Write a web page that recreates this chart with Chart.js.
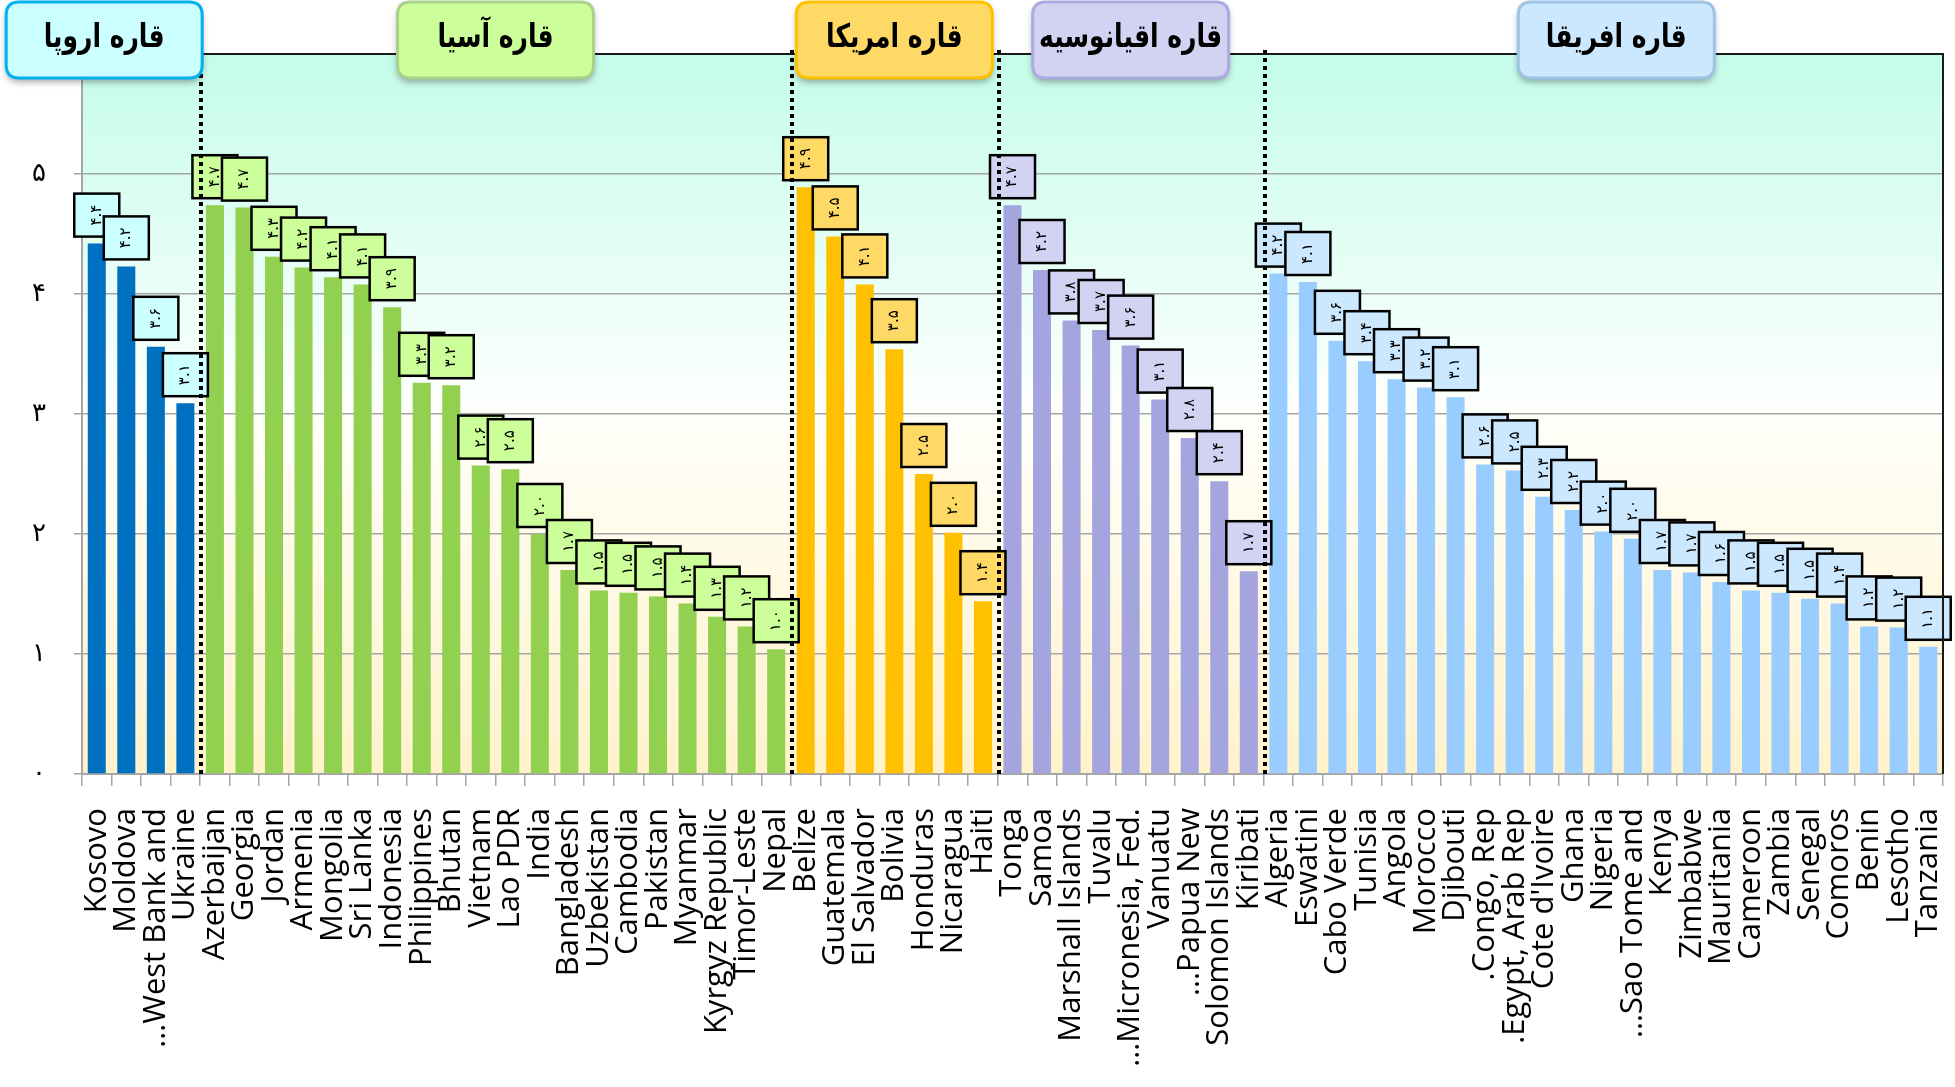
<!DOCTYPE html>
<html><head><meta charset="utf-8">
<script src="https://cdn.jsdelivr.net/npm/chart.js@4"></script>
<style>html,body{margin:0;padding:0;background:#fff;}canvas{display:block;}</style>
</head><body>
<canvas id="c" width="1955" height="1087"></canvas>
<script>
// ---- data ----
const europeLabels = ['Kosovo', 'Moldova', '…West Bank and', 'Ukraine'];
const europeValues = [4.42, 4.23, 3.56, 3.09];

const asiaLabels = ['Azerbaijan', 'Georgia', 'Jordan', 'Armenia', 'Mongolia', 'Sri Lanka', 'Indonesia',
  'Philippines', 'Bhutan', 'Vietnam', 'Lao PDR', 'India', 'Bangladesh', 'Uzbekistan', 'Cambodia',
  'Pakistan', 'Myanmar', 'Kyrgyz Republic', 'Timor-Leste', 'Nepal'];
const asiaValues = [4.74, 4.72, 4.31, 4.22, 4.14, 4.08, 3.89, 3.26, 3.24, 2.57, 2.54, 2.0, 1.7, 1.53,
  1.51, 1.48, 1.42, 1.31, 1.23, 1.04];

const americaLabels = ['Belize', 'Guatemala', 'El Salvador', 'Bolivia', 'Honduras', 'Nicaragua', 'Haiti'];
const americaValues = [4.89, 4.48, 4.08, 3.54, 2.5, 2.01, 1.44];

const oceaniaLabels = ['Tonga', 'Samoa', 'Marshall Islands', 'Tuvalu', '…Micronesia, Fed.', 'Vanuatu',
  '…Papua New', 'Solomon Islands', 'Kiribati'];
const oceaniaValues = [4.74, 4.2, 3.78, 3.7, 3.57, 3.12, 2.8, 2.44, 1.69];

const africaLabels = ['Algeria', 'Eswatini', 'Cabo Verde', 'Tunisia', 'Angola', 'Morocco', 'Djibouti',
  '.Congo, Rep', '.Egypt, Arab Rep', "Cote d'Ivoire", 'Ghana', 'Nigeria', '…Sao Tome and', 'Kenya',
  'Zimbabwe', 'Mauritania', 'Cameroon', 'Zambia', 'Senegal', 'Comoros', 'Benin', 'Lesotho', 'Tanzania'];
const africaValues = [4.17, 4.1, 3.61, 3.44, 3.29, 3.22, 3.14, 2.58, 2.53, 2.31, 2.2, 2.02, 1.96, 1.7,
  1.68, 1.6, 1.53, 1.51, 1.46, 1.42, 1.23, 1.22, 1.06];

const groupTitles = ['قاره اروپا', 'قاره آسیا', 'قاره امریکا', 'قاره اقیانوسیه', 'قاره افریقا'];
const yTickLabels = ['۰', '۱', '۲', '۳', '۴', '۵', ''];

// ---- styles ----
const groupBarColors = ['#0070C0', '#92D050', '#FFC000', '#A4A4DF', '#99CCFF'];
const groupBoxFills  = ['#CCFFFF', '#CCFF99', '#FFD966', '#D2D2F2', '#CCE8FF'];
const groupBorders   = ['#00B0F0', '#A9D18E', '#FFC000', '#ABABE2', '#9DC3E6'];

const faDigits = '۰۱۲۳۴۵۶۷۸۹';
const fa = s => String(s).replace(/\d/g, d => faDigits[d]);

const groups = [
  [europeLabels, europeValues], [asiaLabels, asiaValues], [americaLabels, americaValues],
  [oceaniaLabels, oceaniaValues], [africaLabels, africaValues]
];
const labels = [], values = [], barColors = [], boxFills = [], groupStart = [];
groups.forEach(([ls, vs], gi) => {
  groupStart.push(labels.length);
  ls.forEach((l, i) => {
    labels.push(l); values.push(vs[i]);
    barColors.push(groupBarColors[gi]); boxFills.push(groupBoxFills[gi]);
  });
});
groupStart.push(labels.length);

function roundRect(ctx, x, y, w, h, r) {
  ctx.beginPath();
  ctx.moveTo(x + r, y);
  ctx.lineTo(x + w - r, y); ctx.quadraticCurveTo(x + w, y, x + w, y + r);
  ctx.lineTo(x + w, y + h - r); ctx.quadraticCurveTo(x + w, y + h, x + w - r, y + h);
  ctx.lineTo(x + r, y + h); ctx.quadraticCurveTo(x, y + h, x, y + h - r);
  ctx.lineTo(x, y + r); ctx.quadraticCurveTo(x, y, x + r, y);
  ctx.closePath();
}

const deco = {
  id: 'deco',
  beforeDraw(chart) {
    const { ctx, chartArea: a } = chart;
    const g = ctx.createLinearGradient(0, a.top, 0, a.bottom);
    g.addColorStop(0, '#C4FCEA');
    g.addColorStop(0.47, '#FBFFFC');
    g.addColorStop(0.55, '#FFFEF5');
    g.addColorStop(1, '#FFF2CB');
    ctx.save();
    ctx.fillStyle = g;
    ctx.fillRect(a.left, a.top, a.right - a.left, a.bottom - a.top);
    ctx.restore();
  },
  afterDatasetsDraw(chart) {
    const ctx = chart.ctx;
    const meta = chart.getDatasetMeta(0);
    ctx.save();
    meta.data.forEach((bar, i) => {
      const w = 45, h = 43, gap = 7;
      const x = bar.x - w / 2, y = bar.y - gap - h;
      ctx.fillStyle = boxFills[i];
      ctx.fillRect(x, y, w, h);
      ctx.lineWidth = 2.5; ctx.strokeStyle = '#000';
      ctx.strokeRect(x, y, w, h);
      ctx.save();
      ctx.translate(bar.x, y + h / 2);
      ctx.rotate(-Math.PI / 2);
      ctx.font = '15px "DejaVu Sans"';
      ctx.fillStyle = '#000'; ctx.textAlign = 'center'; ctx.textBaseline = 'middle';
      ctx.fillText(fa(values[i].toFixed(1)), 0, 0);
      ctx.restore();
    });
    ctx.restore();
  },
  afterDraw(chart) {
    const { ctx, chartArea: a } = chart;
    const xs = chart.scales.x;
    const step = xs.getPixelForValue(1) - xs.getPixelForValue(0);
    const boundary = i => xs.getPixelForValue(i) - step / 2;
    ctx.save();
    // top and right border
    ctx.strokeStyle = '#1a1a1a'; ctx.lineWidth = 2;
    ctx.beginPath();
    ctx.moveTo(a.left, a.top); ctx.lineTo(a.right, a.top); ctx.lineTo(a.right, a.bottom);
    ctx.stroke();
    // dotted separators
    ctx.strokeStyle = '#000'; ctx.lineWidth = 4; ctx.setLineDash([4, 4]);
    for (let k = 1; k < groupStart.length - 1; k++) {
      const bx = Math.round(boundary(groupStart[k])) + 1;
      ctx.beginPath(); ctx.moveTo(bx, a.top - 4); ctx.lineTo(bx, a.bottom); ctx.stroke();
    }
    ctx.setLineDash([]);
    // group headers
    const bw = 196, bh = 76, by = 2;
    groupTitles.forEach((t, gi) => {
      let left;
      if (gi === 0) {
        left = boundary(groupStart[1]) + 2 - bw;
      } else {
        const c = (boundary(groupStart[gi]) + boundary(groupStart[gi + 1])) / 2 + (gi === 4 ? 13 : 0);
        left = c - bw / 2;
      }
      ctx.save();
      ctx.shadowColor = 'rgba(0,0,0,0.35)'; ctx.shadowBlur = 7; ctx.shadowOffsetY = 4;
      roundRect(ctx, left, by, bw, bh, 13);
      ctx.fillStyle = groupBoxFills[gi]; ctx.fill();
      ctx.restore();
      roundRect(ctx, left, by, bw, bh, 13);
      ctx.lineWidth = 3; ctx.strokeStyle = groupBorders[gi]; ctx.stroke();
      ctx.save();
      ctx.translate(left + bw / 2, by + bh / 2 - 1);
      ctx.scale(1, 1.3);
      ctx.fillStyle = '#000';
      ctx.font = 'bold 25px "DejaVu Sans"';
      ctx.textAlign = 'center'; ctx.textBaseline = 'middle';
      ctx.fillText(t, 0, 0);
      ctx.restore();
    });
    ctx.restore();
  }
};

new Chart(document.getElementById('c'), {
  type: 'bar',
  data: {
    labels: labels,
    datasets: [{ data: values, backgroundColor: barColors, borderWidth: 0,
      barPercentage: 0.61, categoryPercentage: 1.0 }]
  },
  options: {
    responsive: false, animation: false, devicePixelRatio: 1,
    layout: { padding: { top: 54, right: 12, left: 0, bottom: 0 } },
    plugins: { legend: { display: false }, tooltip: { enabled: false } },
    scales: {
      x: {
        grid: { offset: true, drawOnChartArea: false, drawTicks: true, tickLength: 12, color: '#A6A6A6', lineWidth: 1.5 },
        border: { color: '#A6A6A6', width: 2 },
        ticks: { autoSkip: false, minRotation: 90, maxRotation: 90, padding: 22, color: '#000',
          font: { family: '"Open Sans"', size: 31 } },
        afterFit(s) { s.height = 313; s.paddingLeft = 0; s.paddingRight = 0; }
      },
      y: {
        min: 0, max: 6,
        grid: { color: '#A6A6A6', lineWidth: 1.5, tickLength: 8 },
        border: { color: '#A6A6A6', width: 2 },
        ticks: { stepSize: 1, padding: 28, color: '#000',
          font: { family: '"DejaVu Sans"', size: 26 },
          callback: (v) => yTickLabels[v] },
        afterFit(s) { s.width = 82; s.paddingTop = 0; s.paddingBottom = 0; }
      }
    }
  },
  plugins: [deco]
});
</script>
</body></html>
